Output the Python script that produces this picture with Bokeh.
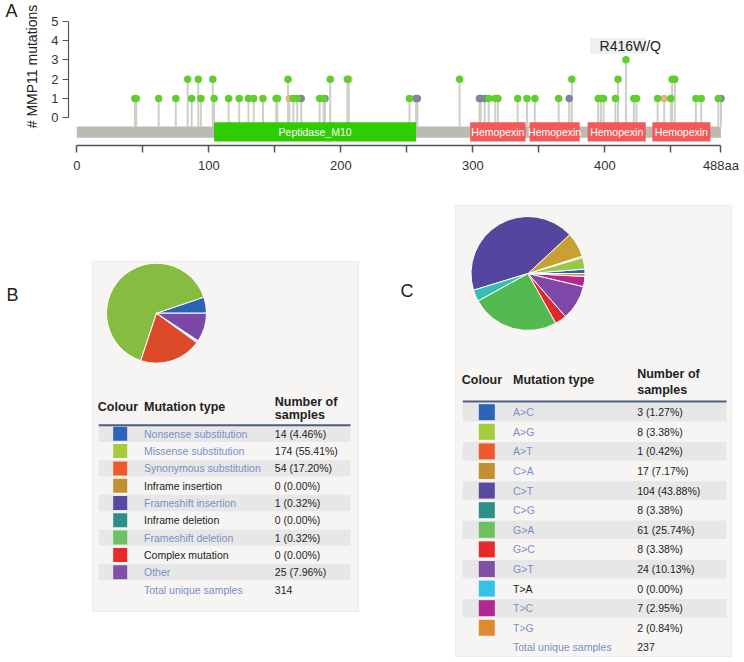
import numpy as np
from bokeh.plotting import figure
from bokeh.models import Range1d, FixedTicker, LinearAxis
from bokeh.layouts import column
from bokeh.embed import file_html
from bokeh.resources import INLINE
from bokeh.core.properties import value

FONT = "Liberation Sans"

# ---------------- Panel A data ----------------
protein_length = 488
mut_pos = [44, 45, 62, 75, 84, 87, 92, 94, 103, 104, 115, 123, 130, 134, 141, 151, 152, 160, 161,
           164, 167, 170, 184, 187, 188, 192, 206, 205, 252, 257, 258, 290, 305, 306, 309, 312,
           317, 319, 334, 341, 347, 365, 373, 375, 395, 397, 399, 408, 410, 416, 422, 424, 440,
           445, 450, 451, 453, 469, 473, 486, 488]
mut_count = [1, 1, 1, 1, 2, 1, 2, 1, 2, 1, 1, 1, 1, 1, 1, 1, 1, 2, 1,
             1, 1, 1, 1, 1, 1, 2, 2, 2, 1, 1, 1, 2, 1, 1, 1, 1,
             1, 1, 1, 1, 1, 1, 1, 2, 1, 1, 1, 1, 2, 3, 1, 1, 1,
             1, 1, 2, 2, 1, 1, 1, 1]
mut_class = ["M", "M", "M", "M", "M", "M", "M", "M", "M", "M", "M", "M", "M", "M", "M", "M", "M", "M", "I",
             "M", "M", "O", "M", "M", "O", "M", "I", "M", "M", "O", "O", "M", "O", "O", "O", "M",
             "M", "M", "M", "M", "M", "M", "O", "M", "M", "M", "M", "M", "M", "M", "M", "M", "M",
             "I", "M", "M", "M", "M", "M", "M", "O"]
class_colors = {"M": "#5fcf2c", "O": "#7c879b", "I": "#e9b184"}
domain_names = ["Peptidase_M10", "Hemopexin", "Hemopexin", "Hemopexin", "Hemopexin"]
domain_start = [104, 298, 343, 387, 436]
domain_end = [257, 340, 381, 431, 480]
domain_colors = ["#2ecc00", "#f25a5a", "#f25a5a", "#f25a5a", "#f25a5a"]
hot_pos = [416]
hot_text = ["R416W/Q"]
y_ticks = [0, 1, 2, 3, 4, 5]
x_ticks = [0, 50, 100, 150, 200, 250, 300, 350, 400, 450, 488]
x_tick_text = {0: "0", 100: "100", 200: "200", 300: "300", 400: "400", 488: "488aa"}

# ---------------- Panel B data ----------------
b_types = ["Nonsense substitution", "Missense substitution", "Synonymous substitution",
           "Inframe insertion", "Frameshift insertion", "Inframe deletion",
           "Frameshift deletion", "Complex mutation", "Other"]
b_counts = [14, 174, 54, 0, 1, 0, 1, 0, 25]
b_colors = ["#2b63b6", "#a6cb3b", "#ef5a2b", "#c3902f", "#5a49a0", "#2a9088", "#6cc060", "#e8292a", "#8050a8"]
b_pie_colors = ["#2d62b5", "#86bd40", "#dc4a2a", "#c3902f", "#5a49a0", "#2a9088", "#c8d0c8", "#e8292a", "#7a48a8"]
b_link = [True, True, True, False, True, False, True, False, True]
b_total = 314

# ---------------- Panel C data ----------------
c_types = ["A>C", "A>G", "A>T", "C>A", "C>T", "C>G", "G>A", "G>C", "G>T", "T>A", "T>C", "T>G"]
c_counts = [3, 8, 1, 17, 104, 8, 61, 8, 24, 0, 7, 2]
c_colors = ["#2b63b6", "#a6cb3b", "#ef5a2b", "#c3902f", "#5a49a0", "#2a9088", "#6cc060", "#e8292a",
            "#8050a8", "#33c3e8", "#b02890", "#e08a30"]
c_pie_colors = ["#2b63b6", "#96c84a", "#ef5a2b", "#c9a032", "#55459e", "#36bdb5", "#54b950", "#e0282a",
                "#7d48a8", "#33c3e8", "#b02890", "#e08a30"]
c_link = [True] * 9 + [False] + [True, True]
c_total = 237

LINK = "#7b8fc6"
DARK = "#222222"
BOX = "#f6f5f3"
SHADE = "#e7e7e7"

# ================= Top figure (panel A) =================
PX = 1.32      # pixels per residue
PY = 19.32     # pixels per mutation
W = 744
FL = 68        # frame left
top = figure(width=W, height=180, x_range=Range1d(-6.3, -6.3 + (W - FL) / PX),
             y_range=Range1d(-27.7 / PY, 117.3 / PY), output_backend="svg", toolbar_location=None,
             min_border_left=FL, min_border_right=0, min_border_top=0, min_border_bottom=35)
top.outline_line_color = None
top.grid.visible = False

xa = top.xaxis[0]
xa.ticker = FixedTicker(ticks=x_ticks)
xa.major_label_overrides = {t: x_tick_text.get(t, "") for t in x_ticks}
xa.bounds = (0, protein_length)
xa.major_tick_out = 7
xa.major_tick_in = 0
xa.minor_tick_line_color = None
xa.axis_line_color = "#555555"
xa.axis_line_width = 1.5
xa.major_tick_line_color = "#555555"
xa.major_tick_line_width = 1.5
xa.major_label_text_font = FONT
xa.major_label_text_font_size = "13px"
xa.major_label_text_color = "#333333"
xa.major_label_standoff = 5

ya = top.yaxis[0]
ya.ticker = FixedTicker(ticks=y_ticks)
ya.bounds = (0, 5)
ya.major_tick_out = 6
ya.major_tick_in = 0
ya.minor_tick_line_color = None
ya.axis_line_color = "#555555"
ya.axis_line_width = 1.2
ya.major_tick_line_color = "#555555"
ya.major_label_text_font = FONT
ya.major_label_text_font_size = "13px"
ya.major_label_text_color = "#333333"
ya.major_label_standoff = 4


def text_axis(fig, pos, label, size, standoff, vertical=False):
    ax = LinearAxis(ticker=FixedTicker(ticks=[pos]), major_label_overrides={pos: label})
    ax.axis_line_color = None
    ax.major_tick_line_color = None
    ax.minor_tick_line_color = None
    ax.major_tick_out = 0
    ax.major_tick_in = 0
    ax.major_label_text_font = FONT
    ax.major_label_text_font_size = size
    ax.major_label_text_color = "#222222"
    ax.major_label_standoff = standoff
    if vertical:
        ax.major_label_orientation = "vertical"
    fig.add_layout(ax, "left")
    return ax


title_pos = round((117.3 - 66) / PY, 3)
a_pos = round((117.3 - 9.5) / PY, 3)
text_axis(top, title_pos, "# MMP11 mutations", "14px", 8, vertical=True)
text_axis(top, a_pos, "A", "18px", 4)

stem_base = -0.45
top.segment(x0=mut_pos, y0=[stem_base] * len(mut_pos), x1=mut_pos, y1=mut_count,
            line_color="#cfcfc8", line_width=2)

# backbone and domains
top.quad(left=[0], right=[protein_length], bottom=[-1.035], top=[-0.45],
         fill_color="#bbbbb3", line_color=None)
top.quad(left=domain_start, right=domain_end, bottom=[-1.227] * 5, top=[-0.228] * 5,
         fill_color=domain_colors, line_color=None)
top.text(x=[(s + e) / 2 for s, e in zip(domain_start, domain_end)], y=[-0.73] * 5, text=domain_names,
         text_font=value(FONT), text_font_size="10.5px", text_color="white",
         text_align="center", text_baseline="middle")

for cls in ["O", "I", "M"]:
    xs = [p for p, c in zip(mut_pos, mut_class) if c == cls]
    ys = [n for n, c in zip(mut_count, mut_class) if c == cls]
    top.scatter(x=xs, y=ys, size=7.5, fill_color=class_colors[cls], line_color=None)

# hotspot label
top.quad(left=[hot_pos[0] - 27.1], right=[hot_pos[0] + 15.3], bottom=[3.31], top=[4.12],
         fill_color="#efefef", line_color=None)
top.text(x=[hot_pos[0] - 20], y=[3.72], text=hot_text, text_font=value(FONT),
         text_font_size="14px", text_color=DARK, text_align="left", text_baseline="middle")

# ================= Bottom figure (panels B, C) =================
H2 = 480
bot = figure(width=W, height=H2, x_range=Range1d(FL, W), y_range=Range1d(-(180 + H2), -180),
             output_backend="svg", toolbar_location=None, x_axis_location=None,
             y_axis_location=None, min_border_left=FL, min_border_right=0, min_border_top=0,
             min_border_bottom=0)
bot.outline_line_color = None
bot.grid.visible = False


def Y(v):
    return -v


text_axis(bot, Y(294), "B", "18px", 50)

bot.text(x=[400], y=[Y(290)], text=["C"], text_font=value(FONT),
         text_font_size="18px", text_color=DARK, text_baseline="middle")

# boxes
bot.quad(left=[92, 455], right=[358, 731], top=[Y(261), Y(205)], bottom=[Y(611), Y(656)],
         fill_color=BOX, line_color="#ecebea")


def pie(cx, cy, r, counts, colors):
    arr = np.array(counts, dtype=float)
    ends = np.cumsum(arr) / arr.sum() * 2 * np.pi
    starts = np.concatenate([[0.0], ends[:-1]])
    keep = arr > 0
    bot.wedge(x=cx, y=cy, radius=r, start_angle=starts[keep], end_angle=ends[keep],
              fill_color=[c for c, k in zip(colors, keep) if k], line_color="white",
              line_width=1, direction="anticlock")


pie(156, Y(312.7), 50, b_counts, b_pie_colors)
pie(527.5, Y(273), 57, c_counts, c_pie_colors)


def table(x0, x1, hdr_y, num_y1, num_y2, line_y, row0, dy, sq_x, sq_w, txt_x, num_x,
          types, counts, colors, link, total):
    n = len(types)
    ys = [row0 + i * dy for i in range(n)]
    sh = [y for i, y in enumerate(ys) if i % 2 == 0]
    bot.quad(left=x0, right=x1, top=[Y(y - dy / 2 + 0.5) for y in sh],
             bottom=[Y(y + dy / 2 - 0.5) for y in sh], fill_color=SHADE, line_color=None)
    bot.line(x=[x0, x1], y=[Y(line_y)] * 2, line_color="#4b5e80", line_width=2)
    bot.text(x=[x0 - 1, txt_x, num_x, num_x], y=[Y(hdr_y), Y(hdr_y), Y(num_y1), Y(num_y2)],
             text=["Colour", "Mutation type", "Number of", "samples"], text_font=value(FONT),
             text_font_size="12.5px", text_font_style="bold", text_color=DARK,
             text_baseline="middle")
    bot.rect(x=[sq_x] * n, y=[Y(y) for y in ys], width=sq_w, height=sq_w, fill_color=colors,
             line_color=None)
    bot.text(x=[txt_x] * n, y=[Y(y) for y in ys], text=types, text_font=value(FONT),
             text_font_size="10.5px", text_color=[LINK if l else DARK for l in link],
             text_baseline="middle")
    bot.text(x=[num_x] * n, y=[Y(y) for y in ys],
             text=[f"{c} ({100 * c / total:.2f}%)" for c in counts], text_font=value(FONT),
             text_font_size="10.5px", text_color=DARK, text_baseline="middle")
    ty = row0 + n * dy
    bot.text(x=[txt_x, num_x], y=[Y(ty)] * 2, text=["Total unique samples", str(total)],
             text_font=value(FONT), text_font_size="10.5px", text_color=[LINK, DARK],
             text_baseline="middle")


table(98.3, 350, 406.7, 401, 414.3, 424.7, 433.3, 17.3, 119.7, 14, 143.5, 274.3,
      b_types, b_counts, b_colors, b_link, b_total)
table(462.3, 726, 379, 373, 389, 401, 411.7, 19.6, 486.3, 16, 512.5, 636.7,
      c_types, c_counts, c_colors, c_link, c_total)

layout = column(top, bot, spacing=0)
open("out.html", "w").write(file_html(layout, INLINE))
